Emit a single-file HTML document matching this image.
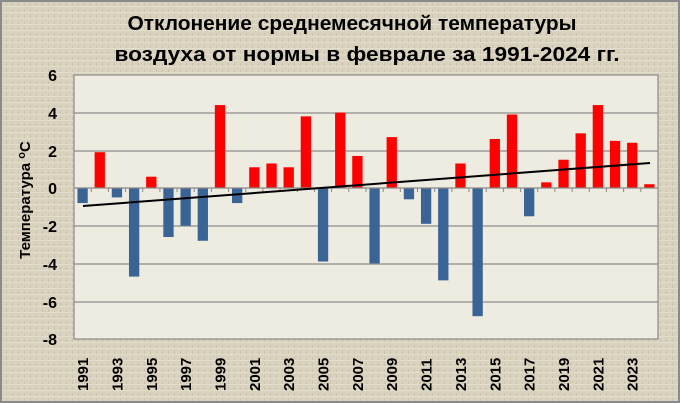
<!DOCTYPE html>
<html><head><meta charset="utf-8"><style>
body{margin:0;width:680px;height:403px;overflow:hidden;background:#d8d1bd;}
svg{display:block;font-family:"Liberation Sans",sans-serif;}
</style></head><body>
<svg width="680" height="403" viewBox="0 0 680 403">
<defs>
<pattern id="tx" width="6" height="6" patternUnits="userSpaceOnUse">
<rect width="6" height="6" fill="#d9d2be"/>
<rect x="0" y="0" width="6" height="1" fill="#e3ddcc"/>
<rect x="0" y="3" width="1" height="3" fill="#cbc3ad"/>
</pattern>
</defs>
<rect x="0" y="0" width="680" height="403" fill="url(#tx)"/>
<rect x="1" y="1" width="678" height="401" fill="none" stroke="#8a8a8a" stroke-width="2"/>
<text x="352" y="30" font-size="20" font-weight="bold" text-anchor="middle" textLength="449" lengthAdjust="spacingAndGlyphs">Отклонение среднемесячной температуры</text>
<text x="367" y="61" font-size="20" font-weight="bold" text-anchor="middle" textLength="505" lengthAdjust="spacingAndGlyphs">воздуха от нормы  в феврале за 1991-2024 гг.</text>
<rect x="74" y="75" width="584" height="264" fill="#eeece1"/>
<g stroke="#8c8c8c" stroke-width="1.2">
<line x1="74" y1="113" x2="658" y2="113"/><line x1="74" y1="151" x2="658" y2="151"/>
<line x1="74" y1="226" x2="658" y2="226"/><line x1="74" y1="264" x2="658" y2="264"/>
<line x1="74" y1="302" x2="658" y2="302"/>
</g>
<rect x="74" y="75" width="584" height="264" fill="none" stroke="#888" stroke-width="1.2"/>
<g transform="translate(74,188) scale(17.176,-18.85)">
<g fill="#ff0000">
<rect x="1.2" y="0" width="0.6" height="1.9"/>
<rect x="4.2" y="0" width="0.6" height="0.6"/>
<rect x="8.2" y="0" width="0.6" height="4.4"/>
<rect x="10.2" y="0" width="0.6" height="1.1"/>
<rect x="11.2" y="0" width="0.6" height="1.3"/>
<rect x="12.2" y="0" width="0.6" height="1.1"/>
<rect x="13.2" y="0" width="0.6" height="3.8"/>
<rect x="15.2" y="0" width="0.6" height="4.0"/>
<rect x="16.2" y="0" width="0.6" height="1.7"/>
<rect x="18.2" y="0" width="0.6" height="2.7"/>
<rect x="22.2" y="0" width="0.6" height="1.3"/>
<rect x="24.2" y="0" width="0.6" height="2.6"/>
<rect x="25.2" y="0" width="0.6" height="3.9"/>
<rect x="27.2" y="0" width="0.6" height="0.3"/>
<rect x="28.2" y="0" width="0.6" height="1.5"/>
<rect x="29.2" y="0" width="0.6" height="2.9"/>
<rect x="30.2" y="0" width="0.6" height="4.4"/>
<rect x="31.2" y="0" width="0.6" height="2.5"/>
<rect x="32.2" y="0" width="0.6" height="2.4"/>
<rect x="33.2" y="0" width="0.6" height="0.2"/>
</g>
<g fill="#3a6396">
<rect x="0.2" y="-0.8" width="0.6" height="0.8"/>
<rect x="2.2" y="-0.5" width="0.6" height="0.5"/>
<rect x="3.2" y="-4.7" width="0.6" height="4.7"/>
<rect x="5.2" y="-2.6" width="0.6" height="2.6"/>
<rect x="6.2" y="-2.0" width="0.6" height="2.0"/>
<rect x="7.2" y="-2.8" width="0.6" height="2.8"/>
<rect x="9.2" y="-0.8" width="0.6" height="0.8"/>
<rect x="14.2" y="-3.9" width="0.6" height="3.9"/>
<rect x="17.2" y="-4.0" width="0.6" height="4.0"/>
<rect x="19.2" y="-0.6" width="0.6" height="0.6"/>
<rect x="20.2" y="-1.9" width="0.6" height="1.9"/>
<rect x="21.2" y="-4.9" width="0.6" height="4.9"/>
<rect x="23.2" y="-6.8" width="0.6" height="6.8"/>
<rect x="26.2" y="-1.5" width="0.6" height="1.5"/>
</g>
</g>
<line x1="74" y1="188" x2="658" y2="188" stroke="#888" stroke-width="1.3"/>
<path stroke="#888" stroke-width="1" d="M74,188v4M91.2,188v4M108.4,188v4M125.5,188v4M142.7,188v4M159.9,188v4M177.1,188v4M194.2,188v4M211.4,188v4M228.6,188v4M245.8,188v4M262.9,188v4M280.1,188v4M297.3,188v4M314.5,188v4M331.6,188v4M348.8,188v4M366,188v4M383.2,188v4M400.3,188v4M417.5,188v4M434.7,188v4M451.9,188v4M469,188v4M486.2,188v4M503.4,188v4M520.6,188v4M537.7,188v4M554.9,188v4M572.1,188v4M589.3,188v4M606.4,188v4M623.6,188v4M640.8,188v4M658,188v4"/>
<line x1="83" y1="206" x2="650" y2="163" stroke="#000" stroke-width="2"/>
<g font-size="16" font-weight="bold" text-anchor="end">
<text x="57" y="81">6</text><text x="57" y="119">4</text><text x="57" y="157">2</text><text x="57" y="194">0</text>
<text x="57" y="232">-2</text><text x="57" y="270">-4</text><text x="57" y="308">-6</text><text x="57" y="345">-8</text>
</g>
<text transform="translate(30,200) rotate(-90)" font-size="15" font-weight="bold" text-anchor="middle">Температура <tspan font-size="11" dy="-5">о</tspan><tspan dy="5">С</tspan></text>
<g font-size="15" font-weight="bold" text-anchor="start">
<text transform="translate(88,391) rotate(-90)">1991</text>
<text transform="translate(122.4,391) rotate(-90)">1993</text>
<text transform="translate(156.8,391) rotate(-90)">1995</text>
<text transform="translate(191.1,391) rotate(-90)">1997</text>
<text transform="translate(225.5,391) rotate(-90)">1999</text>
<text transform="translate(259.8,391) rotate(-90)">2001</text>
<text transform="translate(294.2,391) rotate(-90)">2003</text>
<text transform="translate(328.5,391) rotate(-90)">2005</text>
<text transform="translate(362.9,391) rotate(-90)">2007</text>
<text transform="translate(397.2,391) rotate(-90)">2009</text>
<text transform="translate(431.6,391) rotate(-90)">2011</text>
<text transform="translate(466,391) rotate(-90)">2013</text>
<text transform="translate(500.3,391) rotate(-90)">2015</text>
<text transform="translate(534.6,391) rotate(-90)">2017</text>
<text transform="translate(569,391) rotate(-90)">2019</text>
<text transform="translate(603.4,391) rotate(-90)">2021</text>
<text transform="translate(637.7,391) rotate(-90)">2023</text>
</g>
</svg>
</body></html>
